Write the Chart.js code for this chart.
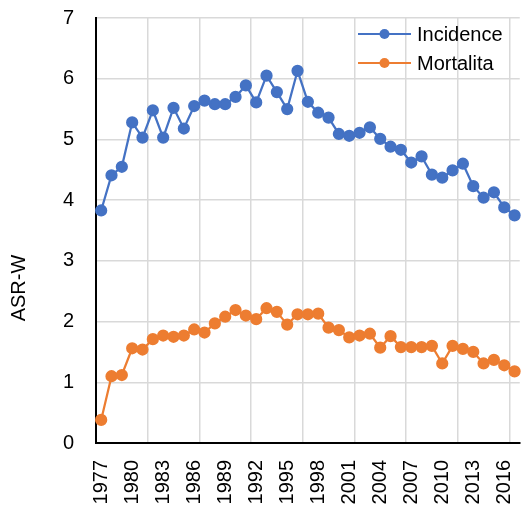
<!DOCTYPE html>
<html>
<head>
<meta charset="utf-8">
<script src="https://cdn.jsdelivr.net/npm/chart.js@4/dist/chart.umd.min.js"></script>
<style>
  html, body { margin: 0; padding: 0; background: #fff; overflow: hidden; }
  #wrap { width: 527px; height: 510px; }
</style>
</head>
<body>
<div id="wrap"><canvas id="chart" width="527" height="510"></canvas></div>
<script>
const years = []
for (let y = 1977; y <= 2017; y++) years.push(String(y))

const incidence = [
  3.83, 4.41, 4.55, 5.28, 5.03, 5.48, 5.03, 5.52, 5.18, 5.55,
  5.64, 5.58, 5.58, 5.70, 5.89, 5.61, 6.05, 5.78, 5.50, 6.13,
  5.62, 5.44, 5.36, 5.09, 5.06, 5.11, 5.20, 5.01, 4.88, 4.83,
  4.62, 4.72, 4.42, 4.37, 4.49, 4.60, 4.23, 4.04, 4.13, 3.88,
  3.75
]

const mortalita = [
  0.38, 1.10, 1.12, 1.56, 1.54, 1.71, 1.77, 1.75, 1.77, 1.87,
  1.82, 1.97, 2.08, 2.19, 2.10, 2.04, 2.22, 2.16, 1.95, 2.12,
  2.12, 2.13, 1.90, 1.86, 1.74, 1.77, 1.80, 1.57, 1.76, 1.58,
  1.58, 1.58, 1.60, 1.31, 1.60, 1.55, 1.50, 1.31, 1.37, 1.28,
  1.18
]

const yTicks = [0, 1, 2, 3, 4, 5, 6, 7]

const BLUE = '#4472C4'
const ORANGE = '#ED7D31'
const FONT = '"Liberation Sans", Arial, sans-serif'

// legend inside the plot, top right, plus the rotated y title
const extras = {
  id: 'extras',
  afterDraw(chart) {
    const ctx = chart.ctx
    ctx.save()
    ctx.fillStyle = '#000'
    ctx.font = '20px ' + FONT
    ctx.textBaseline = 'middle'
    ctx.textAlign = 'left'
    chart.data.datasets.forEach((ds, i) => {
      const y = 34 + i * 29
      ctx.strokeStyle = ds.borderColor
      ctx.lineWidth = 2
      ctx.beginPath()
      ctx.moveTo(358, y)
      ctx.lineTo(411, y)
      ctx.stroke()
      ctx.fillStyle = ds.borderColor
      ctx.beginPath()
      ctx.arc(384.5, y, 5, 0, Math.PI * 2)
      ctx.fill()
      ctx.fillStyle = '#000'
      ctx.fillText(ds.label, 417, y + 1)
    })
    ctx.translate(19, 288)
    ctx.rotate(-Math.PI / 2)
    ctx.textAlign = 'center'
    ctx.font = '20px ' + FONT
    ctx.fillText('ASR-W', 0, 0)
    ctx.restore()
  }
}

new Chart(document.getElementById('chart'), {
  type: 'line',
  data: {
    labels: years,
    datasets: [
      {
        label: 'Incidence',
        data: incidence,
        borderColor: BLUE,
        backgroundColor: BLUE,
        borderWidth: 2.25,
        pointRadius: 5,
        pointHoverRadius: 5,
        tension: 0
      },
      {
        label: 'Mortalita',
        data: mortalita,
        borderColor: ORANGE,
        backgroundColor: ORANGE,
        borderWidth: 2.25,
        pointRadius: 5,
        pointHoverRadius: 5,
        tension: 0
      }
    ]
  },
  options: {
    responsive: false,
    animation: false,
    layout: { padding: { top: 18, left: 0, right: 0, bottom: 0 } },
    plugins: {
      legend: { display: false },
      tooltip: { enabled: false }
    },
    scales: {
      x: {
        type: 'category',
        offset: true,
        grid: {
          offset: true,
          drawTicks: false,
          lineWidth: 1.5,
          color: (c) => (c.index % 5 === 0 ? '#d9d9d9' : 'rgba(0,0,0,0)')
        },
        border: { color: '#000', width: 2 },
        ticks: {
          autoSkip: false,
          minRotation: 90,
          maxRotation: 90,
          padding: 17,
          color: '#000',
          font: { family: FONT, size: 20 },
          callback: function (value, index) {
            return index % 3 === 0 ? this.getLabelForValue(value) : ''
          }
        },
        afterFit: (scale) => {
          scale.height = 510 - 443
          scale.paddingLeft = 0
          scale.paddingRight = 0
        }
      },
      y: {
        min: 0,
        max: 7,
        afterBuildTicks: (scale) => { scale.ticks = yTicks.map(v => ({ value: v })) },
        grid: { drawTicks: false, lineWidth: 1.5, color: '#d9d9d9' },
        border: { color: '#000', width: 2 },
        ticks: {
          padding: 22,
          color: '#000',
          font: { family: FONT, size: 20 }
        },
        afterFit: (scale) => {
          scale.width = 96
          scale.paddingTop = 0
          scale.paddingBottom = 0
        }
      }
    }
  },
  plugins: [extras]
})
</script>
</body>
</html>
